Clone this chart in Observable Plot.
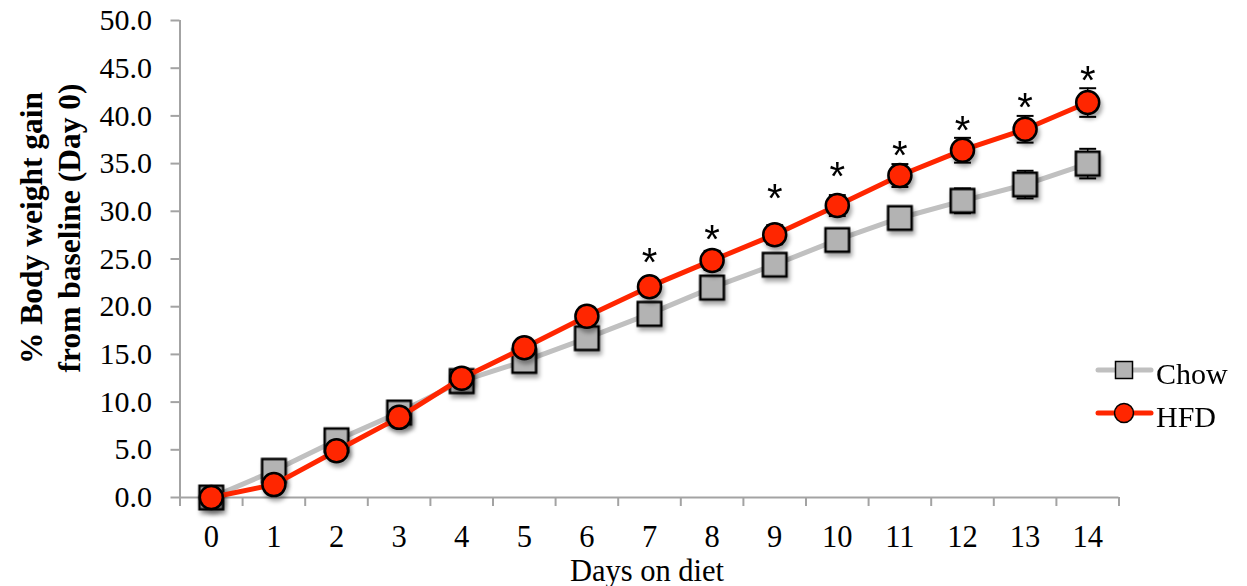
<!DOCTYPE html>
<html><head><meta charset="utf-8">
<script src="https://cdn.jsdelivr.net/npm/d3@7"></script>
<script src="https://cdn.jsdelivr.net/npm/@observablehq/plot@0.6"></script>
<style>body{margin:0;background:#fff;}</style>
</head><body><div id="chart"></div>
<script>
// ---- data ----
const days = [0,1,2,3,4,5,6,7,8,9,10,11,12,13,14];
const chowMean = [0, 2.8, 6.0, 8.9, 12.2, 14.3, 16.7, 19.25, 22.0, 24.4, 27.0, 29.3, 31.1, 32.8, 35.0];
const chowSE   = [0, 0.5, 0.6, 0.7, 0.8, 0.8, 0.9, 0.9, 1.0, 1.0, 1.1, 1.1, 1.3, 1.45, 1.55];
const hfdMean  = [0, 1.35, 4.9, 8.4, 12.5, 15.7, 19.0, 22.1, 24.85, 27.55, 30.6, 33.75, 36.4, 38.6, 41.4];
const hfdSE    = [0, 0.4, 0.5, 0.6, 0.7, 0.8, 0.9, 0.9, 1.0, 1.0, 1.1, 1.2, 1.3, 1.4, 1.5];
const sigDays  = [7, 8, 9, 10, 11, 12, 13, 14];
const sigLevel = [25.5, 27.9, 32.2, 34.5, 36.7, 39.3, 41.7, 44.6];
const yTicks   = [0, 5, 10, 15, 20, 25, 30, 35, 40, 45, 50];
const seriesNames = ["Chow", "HFD"];
const yTitle = "% Body weight gain\nfrom baseline (Day 0)";
const xTitle = "Days on diet";

// ---- tables ----
const chow = days.map((d, i) => ({day: d, mean: chowMean[i], se: chowSE[i]}));
const hfd  = days.map((d, i) => ({day: d, mean: hfdMean[i], se: hfdSE[i]}));
const sig  = sigDays.map((d, i) => ({day: d, y: sigLevel[i]}));
const tickBounds = days.map(d => d - 0.5).concat([days[days.length - 1] + 0.5]);

const axisGray = "#a3a3a3";
const red = "#ff2600";
const grayFill = "#b3b3b3";
const grayLine = "#c0c0c0";
const capHalf = 0.135;

function errorBars(data) {
  return [
    Plot.ruleX(data, {x: "day", y1: d => d.mean - d.se, y2: d => d.mean + d.se, stroke: "black", strokeWidth: 1.5}),
    Plot.link(data, {x1: d => d.day - capHalf, x2: d => d.day + capHalf, y1: d => d.mean + d.se, y2: d => d.mean + d.se, stroke: "black", strokeWidth: 2}),
    Plot.link(data, {x1: d => d.day - capHalf, x2: d => d.day + capHalf, y1: d => d.mean - d.se, y2: d => d.mean - d.se, stroke: "black", strokeWidth: 2})
  ];
}

const plot = Plot.plot({
  width: 1247,
  height: 586,
  marginLeft: 179.5,
  marginRight: 128.5,
  marginTop: 20,
  marginBottom: 89,
  x: {type: "linear", domain: [-0.5, 14.5]},
  y: {type: "linear", domain: [0, 50]},
  style: {fontFamily: "'Liberation Serif', 'Times New Roman', serif", color: "black", background: "white", overflow: "visible"},
  marks: [
    Plot.axisY({ticks: yTicks, tickSize: 9, tickPadding: 19, tickFormat: d3.format(".1f"), fontSize: 30, stroke: axisGray, strokeWidth: 2, fill: "black", label: null}),
    Plot.axisX({ticks: days, tickSize: 0, tickPadding: 27.5, tickFormat: d => String(d), fontSize: 30.5, fill: "black", label: null}),
    Plot.axisX({ticks: tickBounds, tickSize: 9, tickFormat: () => "", stroke: axisGray, strokeWidth: 2, label: null}),
    Plot.ruleX([-0.5], {stroke: axisGray, strokeWidth: 2}),
    Plot.ruleY([0], {stroke: axisGray, strokeWidth: 2}),
    // Chow series
    Plot.line(chow, {x: "day", y: "mean", stroke: grayLine, strokeWidth: 5}),
    ...errorBars(chow),
    Plot.dot(chow, {x: "day", y: "mean", symbol: "square", r: 13.3, fill: grayFill, stroke: "black", strokeWidth: 2.5}),
    // HFD series
    Plot.line(hfd, {x: "day", y: "mean", stroke: red, strokeWidth: 5}),
    ...errorBars(hfd),
    Plot.dot(hfd, {x: "day", y: "mean", symbol: "circle", r: 11.5, fill: red, stroke: "black", strokeWidth: 2.5}),
    // significance asterisks
    Plot.text(sig, {x: "day", y: "y", text: () => "*", fontFamily: "'Liberation Sans', Arial, sans-serif", fontSize: 40, dy: 9, fill: "black"}),
    // axis titles
    Plot.text([yTitle], {frameAnchor: "left", rotate: -90, dx: -131, dy: -31, fontWeight: "bold", fontSize: 31.5, lineHeight: 1.2, textAnchor: "middle", lineAnchor: "middle", fill: "black"}),
    Plot.text([xTitle], {frameAnchor: "bottom", dx: -2.5, dy: 83, lineAnchor: "bottom", fontSize: 30.5, fill: "black"})
  ]
});

document.getElementById("chart").appendChild(plot);

// marker shadows
d3.select(plot).selectAll('g[aria-label="dot"]').style("filter", "drop-shadow(2px 4px 2px rgba(0,0,0,0.35))");

// legend
const svg = d3.select(plot);
const lg = svg.append("g").attr("class", "legend");
const legendItems = [
  {name: seriesNames[0], line: grayLine, fill: grayFill, shape: "square", y: 370},
  {name: seriesNames[1], line: red, fill: red, shape: "circle", y: 413}
];
legendItems.forEach(it => {
  lg.append("line").attr("x1", 1098).attr("x2", 1151).attr("y1", it.y).attr("y2", it.y)
    .attr("stroke", it.line).attr("stroke-width", 5).attr("stroke-linecap", "round");
  if (it.shape === "square") {
    lg.append("rect").attr("x", 1124 - 8.5).attr("y", it.y - 8.5).attr("width", 17).attr("height", 17)
      .attr("fill", it.fill).attr("stroke", "black").attr("stroke-width", 1.5);
  } else {
    lg.append("circle").attr("cx", 1124).attr("cy", it.y).attr("r", 9.5)
      .attr("fill", it.fill).attr("stroke", "black").attr("stroke-width", 1.5);
  }
  lg.append("text").attr("x", 1156).attr("y", it.y + 14)
    .attr("text-anchor", "start")
    .attr("font-family", "'Liberation Serif', 'Times New Roman', serif").attr("font-size", 30)
    .attr("fill", "black").text(it.name);
});
</script>
</body></html>
